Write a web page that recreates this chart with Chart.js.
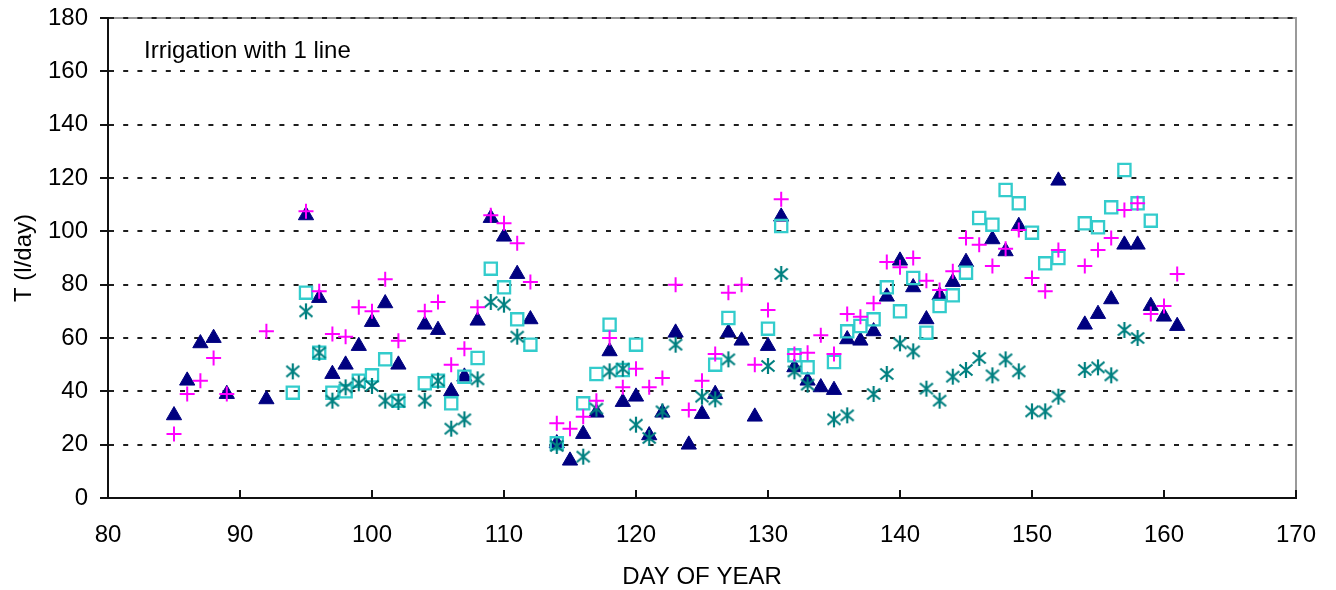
<!DOCTYPE html>
<html>
<head>
<meta charset="utf-8">
<script src="https://cdn.jsdelivr.net/npm/chart.js@4/dist/chart.umd.min.js"></script>
<style>
  html, body { margin: 0; padding: 0; background: #ffffff; }
  #wrap { width: 1336px; height: 590px; }
</style>
</head>
<body>
<div id="wrap"><canvas id="c" width="1336" height="590"></canvas></div>
<script>
// ---- Data ----
const xTicks = [80, 90, 100, 110, 120, 130, 140, 150, 160, 170];
const yTicks = [0, 20, 40, 60, 80, 100, 120, 140, 160, 180];

const triDays = [85, 86, 87, 88, 89, 92, 95, 96, 97, 98, 99, 100, 101, 102, 104, 105, 106, 107, 108, 109, 110, 111, 112, 114, 115, 116, 117, 118, 119, 120, 121, 122, 123, 124, 125, 126, 127, 128, 129, 130, 131, 132, 133, 134, 135, 136, 137, 138, 139, 140, 141, 142, 143, 144, 145, 147, 148, 149, 152, 154, 155, 156, 157, 158, 159, 160, 161];
const triVals = [31, 44, 58, 60, 39, 37, 106, 75, 46.5, 50, 57, 66, 73, 50, 65, 63, 40, 45.5, 66.5, 105, 98, 84, 67, 20.5, 14, 24, 32, 55, 36, 38, 23.5, 32, 62, 20, 31.5, 39, 62, 59, 30.5, 57, 105.5, 49, 44, 41.5, 40.5, 59.5, 59, 62.5, 75.5, 89, 79, 67, 76, 81, 88.5, 97, 92.5, 102, 119, 65, 69, 74.5, 95, 95, 72, 68, 64.5];

const plusDays = [85, 86, 87, 88, 89, 92, 95, 96, 97, 98, 99, 100, 101, 102, 104, 105, 106, 107, 108, 109, 110, 111, 112, 114, 115, 116, 117, 118, 119, 120, 121, 122, 123, 124, 125, 126, 127, 128, 129, 130, 131, 132, 133, 134, 135, 136, 137, 138, 139, 140, 141, 142, 143, 144, 145, 146, 147, 148, 149, 150, 151, 152, 154, 155, 156, 157, 158, 159, 160, 161];
const plusVals = [24, 39, 44, 52.5, 39, 62.5, 107.5, 77.5, 61.5, 60.5, 71.5, 70, 82, 59, 70, 73.5, 50, 56, 71.5, 106, 103, 95.5, 81, 28, 26, 30.5, 36.5, 60, 41.5, 48.5, 41.5, 45, 80, 33, 44, 54, 77, 80, 50, 70.5, 112, 54, 54.5, 61, 54, 69, 68, 73, 88.5, 86.5, 90, 81.5, 78, 85, 97.5, 95, 87, 93.5, 100.5, 82.5, 77.5, 93, 87, 93, 97.5, 108, 110.5, 69, 72, 84];

const sqDays = [94, 95, 96, 97, 98, 99, 100, 101, 102, 104, 105, 106, 107, 108, 109, 110, 111, 112, 114, 116, 117, 118, 119, 120, 126, 127, 130, 131, 132, 133, 135, 136, 137, 138, 139, 140, 141, 142, 143, 144, 145, 146, 147, 148, 149, 150, 151, 152, 154, 155, 156, 157, 158, 159];
const sqVals = [39.5, 77, 54.5, 39.5, 40, 44, 46, 52, 36.5, 43, 44, 35.5, 45.5, 52.5, 86, 79, 67, 57.5, 20.5, 35.5, 46.5, 65, 48, 57.5, 50, 67.5, 63.5, 102, 53.5, 49, 51, 62.5, 64.5, 67, 79, 70, 82.5, 62, 72, 76, 84.5, 105, 102.5, 115.5, 110.5, 99.5, 88, 90, 103, 101.5, 109, 123, 110.5, 104];

const astDays = [94, 95, 96, 97, 98, 99, 100, 101, 102, 104, 105, 106, 107, 108, 109, 110, 111, 114, 116, 117, 118, 119, 120, 121, 122, 123, 125, 126, 127, 130, 131, 132, 133, 135, 136, 138, 139, 140, 141, 142, 143, 144, 145, 146, 147, 148, 149, 150, 151, 152, 154, 155, 156, 157, 158];
const astVals = [47.5, 70, 54.5, 36.5, 41.5, 43, 42, 36.5, 36, 36.5, 44, 26, 29.5, 44.5, 73.5, 72.5, 60.5, 19.5, 15.5, 33.5, 47.5, 48.5, 27.5, 22.5, 32.5, 57.5, 38, 37, 52, 49.5, 84, 47.5, 42.5, 29.5, 31, 39, 46.5, 58, 55, 41, 36.5, 45.5, 48, 52.5, 46, 52, 47.5, 32.5, 32.5, 38, 48, 49, 46, 63, 60];

const toPts = (days, vals) => days.map((d, i) => ({ x: d, y: vals[i] }));

// ---- Styles ----
const FONT = '"Liberation Sans", Arial, sans-serif';
const FS = 24;
const NAVY = '#000080', MAGENTA = '#FF00FF', CYAN = '#33CCCC', TEAL = '#008080';

// asterisk marker (X with vertical bar)
function makeAsterisk() {
  const c = document.createElement('canvas');
  c.width = 18; c.height = 18;
  const g = c.getContext('2d');
  g.strokeStyle = TEAL; g.lineWidth = 2.2; g.lineCap = 'butt';
  g.beginPath();
  g.moveTo(9, 1); g.lineTo(9, 17);
  g.moveTo(2.5, 3.5); g.lineTo(15.5, 14.5);
  g.moveTo(15.5, 3.5); g.lineTo(2.5, 14.5);
  g.stroke();
  return c;
}
const asteriskImg = makeAsterisk();

const framePlugin = {
  id: 'frame',
  beforeDraw(chart) {
    const { ctx, chartArea: a } = chart;
    ctx.save();
    ctx.strokeStyle = '#9a9a9a';
    ctx.lineWidth = 2;
    ctx.beginPath();
    ctx.moveTo(a.left, a.top);
    ctx.lineTo(a.right, a.top);
    ctx.lineTo(a.right, a.bottom);
    ctx.stroke();
    ctx.restore();
  },
  afterDraw(chart) {
    const { ctx, chartArea: a } = chart;
    const xs = chart.scales.x;
    ctx.save();
    ctx.strokeStyle = '#111';
    ctx.lineWidth = 2;
    ctx.beginPath();
    xs.ticks.forEach(t => {
      const px = Math.round(xs.getPixelForValue(t.value));
      ctx.moveTo(px, a.bottom);
      ctx.lineTo(px, a.bottom - 8);
    });
    ctx.stroke();
    ctx.fillStyle = '#000';
    ctx.font = FS + 'px ' + FONT;
    ctx.textBaseline = 'alphabetic';
    ctx.textAlign = 'left';
    ctx.fillText('Irrigation with 1 line', a.left + 36, a.top + 40);
    ctx.restore();
  }
};

new Chart(document.getElementById('c'), {
  type: 'scatter',
  data: {
    datasets: [
      { label: 'Plus', data: toPts(plusDays, plusVals), pointStyle: 'cross', radius: 7.5, borderColor: MAGENTA, backgroundColor: MAGENTA, borderWidth: 2 },
      { label: 'Asterisk', data: toPts(astDays, astVals), pointStyle: asteriskImg, radius: 9, borderColor: TEAL, backgroundColor: TEAL },
      { label: 'Square', data: toPts(sqDays, sqVals), pointStyle: 'rect', radius: 8.6, borderColor: CYAN, backgroundColor: 'rgba(0,0,0,0)', borderWidth: 2.3 },
      { label: 'Triangle', data: toPts(triDays, triVals), pointStyle: 'triangle', radius: 8.8, borderColor: NAVY, backgroundColor: NAVY, borderWidth: 1 }
    ]
  },
  options: {
    responsive: false,
    animation: false,
    devicePixelRatio: 1,
    layout: { padding: { left: 0, right: 40, top: 18, bottom: 0 } },
    plugins: { legend: { display: false }, tooltip: { enabled: false } },
    events: [],
    scales: {
      x: {
        type: 'linear',
        min: 80, max: 170,
        afterBuildTicks: (s) => { s.ticks = xTicks.map(v => ({ value: v })); },
        afterFit: (s) => { s.height = 92; s.paddingLeft = 0; s.paddingRight = 0; s.paddingTop = 0; s.paddingBottom = 0; },
        grid: { display: false, drawTicks: false },
        border: { display: true, color: '#111', width: 2 },
        ticks: { color: '#000', font: { family: FONT, size: FS }, padding: 23, maxRotation: 0 },
        title: { display: true, text: 'DAY OF YEAR', color: '#000', font: { family: FONT, size: FS }, padding: { top: 0, bottom: -2 } }
      },
      y: {
        type: 'linear',
        min: 0, max: 180,
        afterBuildTicks: (s) => { s.ticks = yTicks.map(v => ({ value: v })); },
        afterFit: (s) => { s.width = 108; s.paddingTop = 0; s.paddingBottom = 0; s.paddingLeft = 0; s.paddingRight = 0; },
        grid: { display: true, drawOnChartArea: true, drawTicks: true, tickLength: 8, color: '#1e1e1e', lineWidth: 2, tickColor: '#111', tickWidth: 2, tickBorderDash: [] },
        border: { display: true, color: '#111', width: 2, dash: [5, 9.2], dashOffset: 0 },
        ticks: { color: '#000', font: { family: FONT, size: FS }, padding: 12 },
        title: { display: true, text: 'T (l/day)', color: '#000', font: { family: FONT, size: FS }, padding: { top: 10, bottom: 0 } }
      }
    }
  },
  plugins: [framePlugin]
});
</script>
</body>
</html>
